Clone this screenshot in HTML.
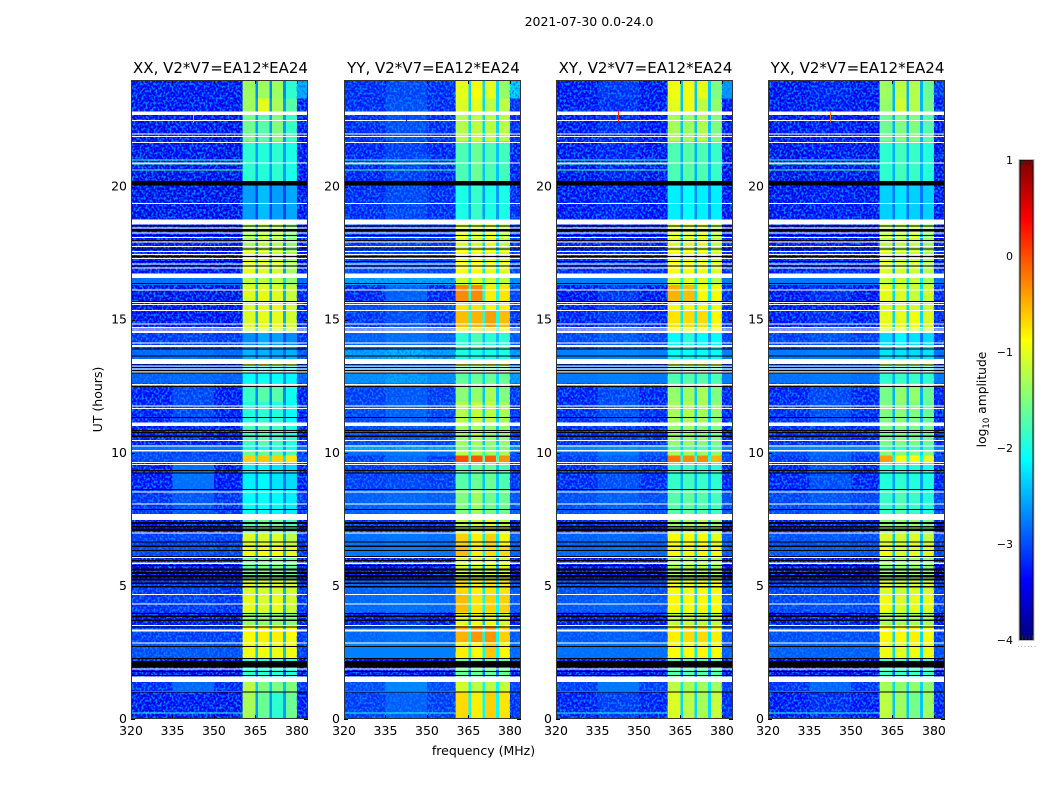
<!DOCTYPE html>
<html>
<head>
<meta charset="utf-8">
<title>2021-07-30 0.0-24.0</title>
<style>
html,body{margin:0;padding:0;background:#fff;}
svg{display:block;font-family:"DejaVu Sans","Liberation Sans",sans-serif;fill:#000;}
</style>
</head>
<body>
<svg id="chart" xmlns="http://www.w3.org/2000/svg" width="1050" height="800" viewBox="0 0 1050 800">
<defs>
<filter id="speckle" x="0" y="0" width="100%" height="100%" color-interpolation-filters="sRGB">
<feTurbulence type="fractalNoise" baseFrequency="0.5 0.42" numOctaves="1" seed="7"/>
<feColorMatrix type="matrix" values="0 0 0 0 0  0 0 0 0 0.5  0 0 0 0 1  4.5 0 0 0 -2.0"/>
</filter>
</defs>
<text x="589" y="26" font-size="12.5" text-anchor="middle">2021-07-30 0.0-24.0</text>
<text x="483.5" y="755" font-size="12.5" text-anchor="middle">frequency (MHz)</text>
<text transform="translate(102,399.5) rotate(-90)" font-size="12.5" text-anchor="middle">UT (hours)</text>
<text transform="translate(986,399.5) rotate(-90)" font-size="12.3" text-anchor="middle">log<tspan font-size="8.5" dy="3">10</tspan><tspan dy="-3"> amplitude</tspan></text>
<g id="panels"></g>
<g id="colorbar"></g>
</svg>
<script>
const panelTitles = ["XX, V2*V7=EA12*EA24","YY, V2*V7=EA12*EA24","XY, V2*V7=EA12*EA24","YX, V2*V7=EA12*EA24"];
const xTicks = [320,335,350,365,380];
const yTicks = [0,5,10,15,20];
const colorTicks = [1,0,-1,-2,-3,-4];
const freqEdges = [320,335,350,360.4,365,366,370,371,375,376,380,384];
const utEdges = [24,23.3,22.8,21.7,20.2,18.76,17.6,16.74,16.3,15.7,15.36,14.7,14.5,13.9,13.53,13.3,12.6,11.9,11.0,10.3,10.05,9.89,9.66,8.6,7.7,7.0,6.5,6.1,5.2,4.7,4.0,3.5,2.9,2.3,1.4,1.0,0];

// Each row: low, mid, sub-band 1, 2, 3, 4, gap, edge (log10 amplitude)
const ampXX = [
[-3.45,-3.4,-1.35,-1.35,-1.35,-1.9,-2.7,-2.5],
[-3.45,-3.4,-1.35,-1.0,-1.3,-1.7,-2.6,-3.4],
[-3.5,-3.4,-1.55,-1.7,-1.5,-1.85,-2.6,-3.45],
[-3.5,-3.45,-1.9,-1.95,-1.9,-2.0,-2.6,-3.45],
[-3.5,-3.45,-2.6,-2.45,-2.6,-2.55,-3.05,-3.45],
[-3.45,-3.4,-1.3,-1.2,-1.25,-1.45,-2.7,-3.4],
[-3.4,-3.35,-1.0,-1.05,-1.1,-1.3,-2.6,-3.35],
[-2.85,-2.85,-1.2,-1.2,-1.2,-1.4,-2.3,-2.9],
[-3.5,-3.45,-1.05,-1.0,-1.05,-1.15,-2.5,-3.3],
[-3.5,-3.45,-1.05,-1.0,-1.0,-1.1,-2.5,-3.3],
[-3.45,-3.4,-1.05,-1.0,-1.0,-1.1,-2.5,-3.3],
[-3.4,-3.35,-1.15,-1.1,-1.1,-1.2,-2.5,-3.3],
[-3.2,-3.15,-2.7,-2.55,-2.6,-2.7,-3.0,-3.25],
[-2.9,-2.85,-2.5,-2.5,-2.55,-2.5,-2.9,-3.0],
[-3.4,-3.4,-0.8,-0.8,-0.85,-0.95,-2.5,-3.4],
[-2.95,-2.9,-2.1,-2.05,-2.1,-2.15,-2.7,-2.95],
[-3.35,-3.1,-1.85,-1.7,-1.7,-2.05,-2.7,-3.35],
[-3.3,-3.1,-1.95,-1.9,-1.95,-2.1,-2.7,-3.3],
[-3.35,-3.3,-1.8,-1.7,-1.8,-1.95,-2.7,-3.35],
[-2.85,-2.8,-2.0,-2.0,-2.0,-2.05,-2.6,-2.9],
[-3.1,-3.1,-1.6,-1.6,-1.65,-1.7,-2.5,-3.1],
[-3.1,-3.05,-0.65,-0.6,-0.65,-0.75,-2.2,-3.1],
[-3.35,-2.85,-2.2,-2.15,-2.25,-2.3,-2.8,-3.35],
[-3.2,-3.0,-2.1,-2.1,-2.15,-2.2,-2.7,-3.2],
[-3.45,-3.4,-1.7,-1.6,-1.6,-1.8,-2.7,-3.4],
[-3.15,-3.1,-1.05,-1.05,-1.05,-1.2,-2.5,-3.2],
[-3.1,-3.05,-0.95,-0.9,-0.9,-1.0,-2.5,-3.2],
[-3.5,-3.45,-1.6,-1.5,-1.5,-1.6,-2.8,-3.5],
[-3.2,-3.15,-1.05,-1.05,-1.05,-1.1,-2.5,-3.2],
[-3.2,-3.15,-1.0,-1.05,-1.0,-1.1,-2.5,-3.2],
[-3.5,-3.35,-1.4,-1.4,-1.4,-1.45,-2.7,-3.5],
[-3.15,-3.15,-0.9,-0.8,-0.8,-0.9,-2.4,-3.2],
[-3.05,-3.0,-0.95,-0.95,-0.95,-0.95,-2.4,-3.15],
[-3.6,-3.55,-1.9,-1.9,-1.9,-1.95,-3.0,-3.6],
[-3.25,-2.9,-1.2,-1.5,-1.5,-1.5,-2.4,-3.2],
[-3.45,-3.35,-1.3,-1.6,-1.9,-1.6,-2.6,-3.4]
];
const ampYY = [
[-3.25,-3.1,-1.0,-0.9,-1.0,-1.4,-2.3,-2.3],
[-3.25,-3.05,-1.05,-1.0,-1.2,-1.2,-2.3,-3.2],
[-3.25,-3.05,-1.25,-1.2,-1.2,-1.2,-2.3,-3.25],
[-3.3,-3.15,-1.75,-1.6,-1.75,-1.8,-2.4,-3.3],
[-3.25,-3.1,-2.0,-1.85,-2.0,-2.0,-2.6,-3.25],
[-3.2,-3.15,-1.05,-1.1,-1.0,-1.2,-2.3,-3.2],
[-3.1,-3.05,-0.9,-0.85,-0.95,-1.0,-2.2,-3.1],
[-2.55,-2.55,-1.1,-1.05,-1.1,-1.2,-2.0,-2.65],
[-3.3,-2.95,-0.3,-0.3,-0.8,-0.75,-2.0,-3.1],
[-3.05,-2.95,-0.75,-0.75,-0.85,-0.85,-2.0,-3.1],
[-3.2,-3.05,-0.55,-0.5,-0.4,-0.55,-2.0,-3.2],
[-3.2,-3.05,-0.75,-0.7,-0.7,-0.85,-2.0,-3.2],
[-2.95,-2.85,-1.9,-1.75,-1.9,-1.9,-2.4,-3.0],
[-2.55,-2.45,-2.0,-2.0,-2.0,-2.0,-2.4,-2.55],
[-3.2,-3.15,-0.75,-0.7,-0.7,-0.75,-2.2,-3.2],
[-2.65,-2.55,-1.65,-1.6,-1.6,-1.6,-2.3,-2.55],
[-3.15,-3.0,-1.45,-1.4,-1.3,-1.5,-2.4,-3.2],
[-3.1,-2.95,-1.25,-1.15,-1.2,-1.3,-2.3,-3.2],
[-3.1,-3.05,-1.35,-1.3,-1.4,-1.4,-2.4,-3.15],
[-2.5,-2.5,-1.5,-1.5,-1.5,-1.5,-2.2,-2.55],
[-2.9,-2.8,-1.2,-1.25,-1.3,-1.3,-2.0,-3.0],
[-3.15,-2.9,0.0,-0.05,-0.1,-0.35,-1.7,-3.1],
[-3.15,-3.1,-1.7,-1.6,-1.6,-1.75,-2.4,-3.2],
[-2.95,-2.9,-1.5,-1.35,-1.55,-1.6,-2.3,-3.0],
[-3.25,-3.2,-1.2,-1.1,-1.0,-1.2,-2.3,-3.3],
[-2.85,-2.8,-0.65,-0.8,-0.65,-0.85,-2.2,-2.95],
[-2.8,-2.75,-0.55,-0.8,-0.7,-0.7,-2.1,-2.95],
[-3.45,-3.4,-1.1,-1.1,-1.05,-1.05,-2.5,-3.45],
[-2.95,-2.9,-0.7,-0.8,-0.75,-0.75,-2.2,-3.0],
[-2.9,-2.85,-0.55,-0.75,-0.65,-0.65,-2.1,-3.0],
[-3.4,-3.2,-1.0,-0.95,-1.0,-1.05,-2.4,-3.4],
[-2.9,-2.85,-0.5,-0.35,-0.35,-0.65,-2.1,-3.0],
[-2.75,-2.75,-0.8,-0.85,-0.6,-0.85,-2.1,-2.9],
[-3.55,-3.5,-1.6,-1.6,-1.6,-1.6,-2.8,-3.55],
[-3.05,-2.7,-1.1,-1.2,-1.2,-1.15,-2.1,-3.1],
[-3.15,-2.95,-0.7,-0.8,-0.65,-0.75,-2.1,-3.2]
];
const ampXY = [
[-3.4,-3.2,-0.95,-0.95,-1.0,-1.5,-2.4,-2.6],
[-3.4,-3.25,-1.0,-0.95,-1.2,-1.4,-2.4,-3.35],
[-3.4,-3.25,-1.3,-1.35,-1.25,-1.5,-2.4,-3.4],
[-3.45,-3.3,-1.75,-1.7,-1.75,-1.85,-2.5,-3.45],
[-3.4,-3.3,-2.2,-2.1,-2.2,-2.2,-2.7,-3.4],
[-3.35,-3.3,-1.05,-1.05,-1.0,-1.2,-2.5,-3.35],
[-3.25,-3.2,-0.9,-0.9,-0.95,-1.05,-2.4,-3.25],
[-2.75,-2.75,-1.05,-1.05,-1.05,-1.2,-2.1,-2.8],
[-3.4,-3.2,-0.5,-0.55,-0.9,-0.9,-2.2,-3.25],
[-3.3,-3.15,-0.9,-0.85,-0.9,-0.9,-2.2,-3.25],
[-3.3,-3.2,-0.75,-0.7,-0.7,-0.85,-2.2,-3.25],
[-3.3,-3.2,-0.85,-0.85,-0.85,-0.95,-2.2,-3.3],
[-3.1,-3.0,-2.1,-1.95,-2.1,-2.1,-2.6,-3.15],
[-2.75,-2.7,-2.1,-2.1,-2.1,-2.1,-2.5,-2.75],
[-3.3,-3.3,-0.8,-0.75,-0.75,-0.85,-2.3,-3.3],
[-2.8,-2.75,-1.75,-1.7,-1.7,-1.75,-2.4,-2.75],
[-3.3,-3.1,-1.4,-1.35,-1.3,-1.5,-2.4,-3.3],
[-3.25,-3.05,-1.3,-1.25,-1.3,-1.4,-2.4,-3.3],
[-3.25,-3.2,-1.4,-1.35,-1.45,-1.5,-2.4,-3.3],
[-2.65,-2.6,-1.7,-1.7,-1.7,-1.7,-2.3,-2.7],
[-3.0,-2.8,-1.3,-1.3,-1.35,-1.4,-2.2,-3.05],
[-3.15,-2.95,-0.2,-0.3,-0.3,-0.5,-1.9,-3.1],
[-3.25,-3.05,-1.85,-1.8,-1.85,-1.9,-2.5,-3.3],
[-3.05,-2.95,-1.7,-1.65,-1.7,-1.8,-2.4,-3.05],
[-3.3,-3.25,-1.35,-1.25,-1.2,-1.35,-2.4,-3.35],
[-2.95,-2.9,-0.9,-0.9,-0.9,-1.0,-2.3,-3.0],
[-2.9,-2.85,-0.85,-0.85,-0.85,-0.9,-2.3,-3.0],
[-3.5,-3.45,-1.3,-1.25,-1.25,-1.3,-2.6,-3.5],
[-3.05,-3.0,-0.9,-0.95,-0.9,-0.9,-2.3,-3.1],
[-3.0,-2.95,-0.85,-0.9,-0.85,-0.9,-2.3,-3.05],
[-3.45,-3.3,-1.2,-1.15,-1.2,-1.2,-2.5,-3.45],
[-3.0,-2.95,-0.8,-0.7,-0.7,-0.8,-2.2,-3.05],
[-2.85,-2.85,-0.9,-0.9,-0.85,-0.9,-2.2,-2.95],
[-3.55,-3.5,-1.7,-1.7,-1.7,-1.7,-2.9,-3.55],
[-3.15,-2.8,-1.2,-1.3,-1.3,-1.3,-2.2,-3.15],
[-3.3,-3.15,-1.05,-1.2,-1.3,-1.15,-2.3,-3.25]
];
const ampYX = [
[-3.45,-3.3,-1.35,-1.2,-1.25,-1.6,-2.5,-3.2],
[-3.45,-3.35,-1.4,-1.1,-1.25,-1.55,-2.5,-3.35],
[-3.45,-3.35,-1.6,-1.5,-1.5,-1.7,-2.5,-3.45],
[-3.5,-3.4,-1.9,-1.8,-1.85,-1.95,-2.5,-3.5],
[-3.45,-3.35,-2.35,-2.25,-2.35,-2.35,-2.8,-3.45],
[-3.4,-3.35,-1.2,-1.2,-1.15,-1.35,-2.6,-3.4],
[-3.3,-3.25,-1.05,-1.1,-1.1,-1.25,-2.5,-3.25],
[-2.8,-2.8,-1.15,-1.15,-1.15,-1.3,-2.2,-2.85],
[-3.4,-3.25,-1.0,-1.05,-1.15,-1.1,-2.3,-3.25],
[-3.4,-3.3,-1.05,-1.05,-1.1,-1.1,-2.3,-3.25],
[-3.35,-3.25,-1.0,-1.0,-0.95,-1.05,-2.3,-3.25],
[-3.3,-3.2,-1.1,-1.05,-1.05,-1.15,-2.3,-3.25],
[-3.15,-3.05,-2.3,-2.15,-2.25,-2.3,-2.8,-3.2],
[-2.8,-2.75,-2.25,-2.25,-2.3,-2.25,-2.7,-2.85],
[-3.3,-3.3,-1.05,-1.0,-1.0,-1.05,-2.4,-3.3],
[-2.85,-2.8,-1.9,-1.85,-1.85,-1.9,-2.5,-2.8],
[-3.3,-3.1,-1.55,-1.4,-1.4,-1.6,-2.5,-3.3],
[-3.25,-3.05,-1.5,-1.45,-1.5,-1.6,-2.5,-3.3],
[-3.25,-3.2,-1.55,-1.5,-1.55,-1.6,-2.5,-3.3],
[-2.7,-2.65,-1.85,-1.85,-1.85,-1.85,-2.4,-2.75],
[-3.05,-2.9,-1.45,-1.45,-1.5,-1.5,-2.3,-3.1],
[-3.2,-3.0,-0.4,-0.9,-0.9,-1.0,-2.1,-3.15],
[-3.3,-3.05,-1.95,-1.9,-1.95,-2.0,-2.6,-3.3],
[-3.1,-3.0,-1.85,-1.75,-1.85,-1.95,-2.5,-3.1],
[-3.35,-3.3,-1.45,-1.4,-1.35,-1.5,-2.5,-3.35],
[-3.05,-3.0,-1.05,-1.1,-1.05,-1.15,-2.4,-3.1],
[-3.0,-2.95,-0.95,-1.05,-1.0,-1.05,-2.4,-3.1],
[-3.55,-3.5,-1.4,-1.35,-1.35,-1.4,-2.7,-3.55],
[-3.15,-3.1,-1.05,-1.1,-1.05,-1.05,-2.4,-3.15],
[-3.1,-3.05,-0.95,-1.05,-1.0,-1.0,-2.4,-3.15],
[-3.5,-3.35,-1.3,-1.3,-1.3,-1.3,-2.6,-3.5],
[-3.05,-3.05,-0.85,-0.85,-0.8,-0.9,-2.3,-3.15],
[-2.95,-2.95,-0.95,-1.0,-0.95,-0.95,-2.3,-3.05],
[-3.6,-3.55,-1.8,-1.8,-1.8,-1.8,-2.9,-3.6],
[-3.2,-2.9,-1.3,-1.4,-1.4,-1.4,-2.3,-3.2],
[-3.35,-3.25,-1.2,-1.35,-1.55,-1.35,-2.4,-3.3]
];
const panelAmps = [ampXX,ampYY,ampXY,ampYX];

// Flagged (white) and empty (black) integrations, UT hours [from,to]
const whiteRows = [[22.81,22.69],[22.5,22.46],[22.0,21.96],[21.9,21.87],[21.67,21.65],[20.9,20.88],[19.38,19.35],[18.76,18.57],[18.46,18.42],[18.27,18.23],[18.1,18.07],[17.93,17.89],[17.77,17.73],[17.58,17.54],[17.47,17.43],[17.31,17.28],[17.11,17.07],[16.96,16.92],[16.74,16.56],[16.14,16.11],[15.67,15.63],[15.59,15.55],[15.36,15.32],[14.86,14.82],[14.73,14.71],[14.67,14.64],[14.6,14.5],[14.15,14.11],[14.04,13.98],[13.53,13.33],[13.28,13.24],[13.17,13.13],[13.06,13.03],[12.58,12.53],[11.78,11.74],[11.69,11.65],[11.14,11.0],[10.48,10.44],[10.27,10.23],[10.1,10.05],[9.65,9.61],[9.58,9.55],[8.54,8.5],[8.1,8.07],[7.7,7.47],[7.0,6.96],[6.08,6.04],[5.87,5.83],[4.69,4.66],[4.34,4.31],[3.53,3.49],[3.37,3.29],[2.88,2.84],[1.9,1.88],[1.59,1.39]];
const blackRows = [[20.21,20.03],[18.53,18.5],[18.4,18.31],[18.18,18.14],[17.99,17.95],[17.67,17.63],[17.39,17.35],[17.2,17.16],[17.03,16.99],[16.37,16.34],[15.7,15.67],[13.92,13.89],[13.65,13.62],[13.32,13.29],[13.22,13.19],[13.11,13.08],[13.02,12.99],[12.51,12.48],[11.34,11.32],[10.85,10.82],[10.77,10.74],[10.64,10.6],[9.35,9.33],[9.25,9.22],[8.63,8.6],[7.88,7.85],[7.39,7.32],[7.25,7.19],[7.15,7.07],[6.67,6.64],[6.51,6.46],[6.35,6.31],[6.13,6.1],[5.98,5.96],[5.79,5.75],[5.66,5.57],[5.53,5.45],[5.41,5.32],[5.27,5.2],[5.12,5.07],[4.99,4.93],[3.99,3.94],[3.89,3.84],[3.74,3.69],[3.48,3.44],[2.75,2.72],[2.3,2.25],[2.17,1.94],[1.81,1.78],[1.65,1.62],[1.03,0.99]];

// Bright narrow-band lines below 360 MHz: UT, value
const brightUT = [21.02,20.87,20.64,1.05,0.25];
const brightAmp = [-1.8,-1.6,-1.7,-1.7,-1.9];

// Vertical RFI spikes per panel: MHz, UT from, UT to, value
const spikeMHz = [342.4,342.4,342.5,342.5];
const spikeFrom = [22.68,22.68,22.85,22.8];
const spikeTo = [22.4,22.4,22.4,22.4];
const spikeAmp = [-0.6,-3.2,0.2,-0.2];

const xMin = 320, xMax = 384, utMin = 0, utMax = 24;
const panelLeft = [131,344,556,768];
const panelW = 177, panelTop = 80, panelH = 639;
const vMin = -4, vMax = 1;
const NS = "http://www.w3.org/2000/svg";

function clip(v){return Math.max(0,Math.min(1,v));}
function jet(value){
  const t = clip((value-vMin)/(vMax-vMin));
  const r = clip(Math.min(4*t-1.5,-4*t+4.5));
  const g = clip(Math.min(4*t-0.5,-4*t+3.5));
  const b = clip(Math.min(4*t+0.5,-4*t+2.5));
  return "rgb("+Math.round(r*255)+","+Math.round(g*255)+","+Math.round(b*255)+")";
}
function xScale(p,mhz){return panelLeft[p]+(mhz-xMin)/(xMax-xMin)*panelW;}
function yScale(ut){return panelTop+panelH-(ut-utMin)/(utMax-utMin)*panelH;}
function cbScale(v){return 160+(vMax-v)/(vMax-vMin)*480;}
function shape(parent,tag,attrs){
  const el = document.createElementNS(NS,tag);
  for(const k in attrs){el.setAttribute(k,attrs[k]);}
  parent.appendChild(el);
  return el;
}
function columnValue(row,c){
  // frequency columns: low, mid, low, s1, gap, s2, gap, s3, gap, s4, edge
  const map = [0,1,0,2,6,3,6,4,6,5,7];
  return row[map[c]];
}

const panelsRoot = document.getElementById("panels");
panelTitles.forEach(function(title,p){
  const g = shape(panelsRoot,"g",{});
  
  
  const x0 = panelLeft[p];
  const amps = panelAmps[p];

  // heatmap cells
  const cells = shape(g,"g",{"shape-rendering":"crispEdges"});
  
  
  for(let i=0;i<utEdges.length-1;i++){
    for(let c=0;c<freqEdges.length-1;c++){
      const x = xScale(p,freqEdges[c]);
      const y = yScale(utEdges[i]);
      const cell = shape(cells,"rect",{x:x,y:y,width:xScale(p,freqEdges[c+1])-x,height:yScale(utEdges[i+1])-y,fill:jet(columnValue(amps[i],c))});
      
      
    }
  }

  // noise texture over the background (out-of-band) channels
  const tex = shape(g,"rect",{x:x0,y:panelTop,width:xScale(p,360.4)-x0,height:panelH,filter:"url(#speckle)"});
  
  
  const texEdge = shape(g,"rect",{x:xScale(p,380),y:panelTop,width:xScale(p,384)-xScale(p,380),height:panelH,filter:"url(#speckle)"});
  
  

  // narrow-band lines
  brightUT.forEach(function(ut,k){
    const y = yScale(ut);
    const line = shape(g,"rect",{x:xScale(p,xMin),y:y,width:xScale(p,360.4)-xScale(p,xMin),height:1,fill:jet(brightAmp[k]),"shape-rendering":"crispEdges"});
    
    
  });

  // flagged rows
  whiteRows.forEach(function(r){
    const top = yScale(r[0]);
    const row = shape(g,"rect",{x:x0,y:top,width:panelW,height:Math.max(1,yScale(r[1])-top),fill:"#fff","shape-rendering":"crispEdges"});
    
    
  });
  blackRows.forEach(function(r){
    const top = yScale(r[0]);
    const row = shape(g,"rect",{x:x0,y:top,width:panelW,height:Math.max(1,yScale(r[1])-top),fill:"#000","shape-rendering":"crispEdges"});
    
    
  });

  // RFI spike
  const sy = yScale(spikeFrom[p]);
  const spike = shape(g,"rect",{x:xScale(p,spikeMHz[p]),y:sy,width:1,height:yScale(spikeTo[p])-sy,fill:jet(spikeAmp[p]),"shape-rendering":"crispEdges"});
  
  

  // ticks
  xTicks.forEach(function(v){
    const x = Math.round(xScale(p,v))+0.5;
    const t1 = shape(g,"line",{x1:x,x2:x,y1:panelTop+panelH,y2:panelTop+panelH-4,stroke:"#000"});
    
    
    const t2 = shape(g,"line",{x1:x,x2:x,y1:panelTop,y2:panelTop+4,stroke:"#000"});
    
    
    const lab = shape(g,"text",{x:xScale(p,v),y:735,"font-size":"12.5","text-anchor":"middle"});
    
    
    lab.textContent = String(v);
  });
  yTicks.forEach(function(v){
    const y = Math.round(yScale(v))+0.5;
    const t1 = shape(g,"line",{x1:x0,x2:x0+4,y1:y,y2:y,stroke:"#000"});
    
    
    const t2 = shape(g,"line",{x1:x0+panelW,x2:x0+panelW-4,y1:y,y2:y,stroke:"#000"});
    
    
    const lab = shape(g,"text",{x:x0-4,y:yScale(v)+4,"font-size":"12.5","text-anchor":"end"});
    
    
    lab.textContent = String(v);
  });

  // frame + title
  const frame = shape(g,"rect",{x:x0+0.5,y:panelTop+0.5,width:panelW-1,height:panelH-1,fill:"none",stroke:"#333"});
  
  
  const ttl = shape(g,"text",{x:x0+panelW/2+1,y:73,"font-size":"15","text-anchor":"middle"});
  
  
  ttl.textContent = title;
});

// colorbar
const cbRoot = document.getElementById("colorbar");
const cbSteps = 240;
for(let i=0;i<cbSteps;i++){
  const v = vMax-(i+0.5)/cbSteps*(vMax-vMin);
  const step = shape(cbRoot,"rect",{x:1020,y:160+i*2,width:14,height:2,fill:jet(v),"shape-rendering":"crispEdges"});
  
  
}
const cbInner = shape(cbRoot,"rect",{x:1020,y:160,width:13,height:480,fill:"none",stroke:"#000"});


const cbOuter = shape(cbRoot,"rect",{x:1019,y:159.5,width:15,height:481,fill:"none",stroke:"#bbb"});


[0,1,2,3].forEach(function(k){
  const x = 1022.5+k*3.4;
  const a = shape(cbRoot,"line",{x1:x,x2:x,y1:160,y2:165,stroke:"#222"});
  
  
  const b = shape(cbRoot,"line",{x1:x,x2:x,y1:640,y2:635,stroke:"#222"});
  
  
});
[0,1,2,3,4,5].forEach(function(k){
  const dot = shape(cbRoot,"rect",{x:1018+k*3.3,y:646,width:1,height:1,fill:"#aaa"});
  
  
});
colorTicks.forEach(function(v){
  const lab = shape(cbRoot,"text",{x:1013,y:cbScale(v)+4,"font-size":"11","text-anchor":"end"});
  
  
  lab.textContent = (v<0?"\u2212":"")+Math.abs(v);
});
</script>
</body>
</html>
